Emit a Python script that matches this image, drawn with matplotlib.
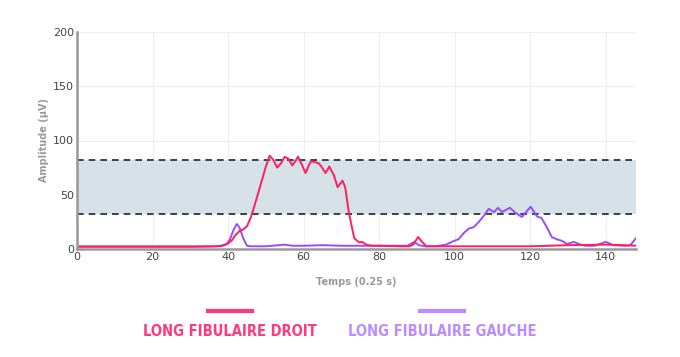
import numpy as np
import matplotlib.pyplot as plt

# Long fibulaire droit (red)
droit_t = [0, 10, 20, 30, 36, 38, 40, 41, 42, 43, 44, 45, 46, 47, 48, 49, 50, 51,
           52, 53, 54, 55, 56, 57, 58, 58.5, 59.5, 60.5, 61.5, 62, 63, 64, 64.7, 65.8,
           66.8, 68, 69, 70.3, 71, 72, 73.4, 74.7, 75.5, 76.6, 78, 80, 85, 88, 89,
           90.3, 91.5, 92.5, 95, 100, 105, 110, 115, 120, 125, 130, 135, 140, 145, 148]
droit_v = [2, 2, 2, 2, 2.3, 2.8, 5, 8, 13, 16.5, 18, 21, 29, 40, 52, 64, 76, 86,
           82, 75, 79, 85, 83, 77, 82, 85, 78, 70, 78, 81, 80, 79, 76, 70,
           76, 68, 57, 63, 57, 33, 10, 6, 6.5, 4, 3, 3, 2.5, 2.5, 4,
           11, 6, 2.5, 2.5, 2.5, 2.5, 2.5, 2.5, 2.5, 3, 3.5, 3.8, 4, 3.5, 3]

# Long fibulaire gauche (purple)
gauche_t = [0, 10, 20, 30, 38, 39.5, 40.5, 41.5, 42.3, 43, 44, 45, 46, 50, 55, 57,
            60, 65, 70, 75, 80, 85, 87.5, 89.3, 90.5, 92, 95, 97.7, 99.5, 101, 102.5,
            103.8, 105, 106.4, 108, 109, 110.4, 111.5, 112.5, 114.6, 116.2, 117.8, 120.1,
            121.8, 123, 124.4, 125.7, 127, 128.4, 129.7, 131.5, 132.9, 134.6, 137,
            140, 142, 145, 146.5, 148]
gauche_v = [2.5, 2.5, 2.5, 2.5, 2.5, 4, 9, 18, 23, 20, 10, 3, 2.5, 2.5, 4, 3,
            3, 3.5, 3, 3, 3, 3, 3, 6.5, 3.5, 2.5, 2.5, 4, 7, 9, 15,
            19, 20, 25, 32, 37, 34, 38, 34, 38, 33, 29.5, 39,
            30, 28.5, 20, 11, 9, 7.5, 4.6, 6.5, 4.6, 3, 3,
            6.5, 3.5, 3, 3.5, 10]

# Normal range band
band_low, band_high = 32.3, 82

series_names = ['LONG FIBULAIRE DROIT', 'LONG FIBULAIRE GAUCHE']
line_colors = ['#FF1F5E', '#9B4BFF']
legend_colors = ['#FF3A7C', '#BB8BFF']

fig = plt.figure(figsize=(6.8, 3.57), dpi=100)
ax = fig.add_axes([77 / 680, 1 - 249 / 357, (636 - 77) / 680, (249 - 32) / 357])

ax.axhspan(band_low, band_high, color='#D6E1E8', zorder=1, lw=0)
ax.axhline(band_low, color='#15243F', lw=1.2, ls=(0, (4, 3)), zorder=2)
ax.axhline(band_high, color='#15243F', lw=1.2, ls=(0, (4, 3)), zorder=2)

ax.plot(droit_t, droit_v, color=line_colors[0], lw=1.4, zorder=4)
ax.plot(gauche_t, gauche_v, color=line_colors[1], lw=1.4, zorder=3)

ax.set_xlim(0, 148)
ax.set_ylim(0, 200)
ax.set_xticks(np.arange(0, 141, 20))
ax.set_yticks(np.arange(0, 201, 50))
ax.tick_params(length=0, labelsize=8, colors='#444444', pad=2)
ax.grid(True, color='#EEEEEE', lw=0.8, zorder=0)
ax.set_axisbelow(True)
for side in ['top', 'right']:
    ax.spines[side].set_visible(False)
for side in ['left', 'bottom']:
    ax.spines[side].set_color('#999999')
    ax.spines[side].set_linewidth(1.8)
    ax.spines[side].set_zorder(5)

ax.set_xlabel('Temps (0.25 s)', fontsize=7, fontweight='bold', color='#999999', labelpad=11)
ax.set_ylabel('Amplitude (µV)', fontsize=7, fontweight='bold', color='#999999', labelpad=3)

# Custom legend below the chart
legend_x = [230 / 680, 442 / 680]
for name, col, x in zip(series_names, legend_colors, legend_x):
    fig.add_artist(plt.Line2D([x - 22 / 680, x + 22 / 680], [1 - 311 / 357] * 2,
                              color=col, lw=3, transform=fig.transFigure))
    fig.text(x, 1 - 331 / 357, name, ha='center', va='center', color=col,
             fontsize=10.5, fontweight='bold', fontstretch='condensed',
             family=['DejaVu Sans'])

fig.savefig('out.png', dpi=100)
